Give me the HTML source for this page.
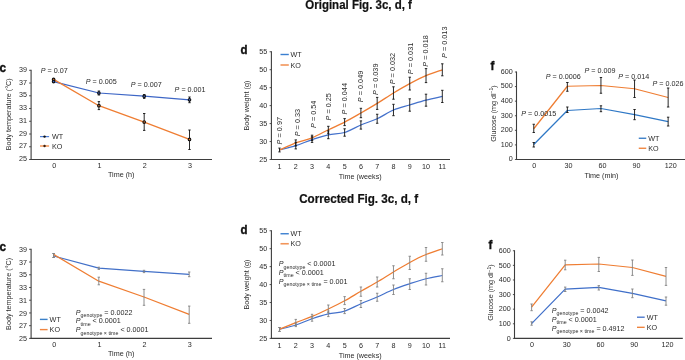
<!DOCTYPE html>
<html><head><meta charset="utf-8"><style>
html,body{margin:0;padding:0;background:#fff;}
body{width:685px;height:360px;overflow:hidden;}
svg{display:block;font-family:"Liberation Sans", sans-serif;will-change:transform;}
</style></head><body>
<svg width="685" height="360" viewBox="0 0 685 360">
<rect width="685" height="360" fill="#fff"/>
<text transform="translate(358.60,8.90) scale(1,1.1)" font-size="11.5" text-anchor="middle" font-weight="bold" font-style="normal" fill="#111" stroke="#111" stroke-width="0.2">Original Fig. 3c, d, f</text>
<text transform="translate(358.70,202.90) scale(1,1.1)" font-size="11.65" text-anchor="middle" font-weight="bold" font-style="normal" fill="#111" stroke="#111" stroke-width="0.2">Corrected Fig. 3c, d, f</text>
<text transform="translate(-0.60,72.30) scale(1,1.1)" font-size="11.8" text-anchor="start" font-weight="bold" font-style="normal" fill="#111" stroke="#111" stroke-width="0.35">c</text>
<line x1="31.10" y1="69.80" x2="31.10" y2="160.00" stroke="#3d3d3d" stroke-width="1.1" />
<line x1="29.10" y1="159.50" x2="31.10" y2="159.50" stroke="#3d3d3d" stroke-width="0.9" />
<text transform="translate(26.90,161.20) scale(1,1.1)" font-size="7.2" text-anchor="end" font-weight="normal" font-style="normal" fill="#2a2a2a" >25</text>
<line x1="29.10" y1="146.76" x2="31.10" y2="146.76" stroke="#3d3d3d" stroke-width="0.9" />
<text transform="translate(26.90,148.46) scale(1,1.1)" font-size="7.2" text-anchor="end" font-weight="normal" font-style="normal" fill="#2a2a2a" >27</text>
<line x1="29.10" y1="134.01" x2="31.10" y2="134.01" stroke="#3d3d3d" stroke-width="0.9" />
<text transform="translate(26.90,135.71) scale(1,1.1)" font-size="7.2" text-anchor="end" font-weight="normal" font-style="normal" fill="#2a2a2a" >29</text>
<line x1="29.10" y1="121.27" x2="31.10" y2="121.27" stroke="#3d3d3d" stroke-width="0.9" />
<text transform="translate(26.90,122.97) scale(1,1.1)" font-size="7.2" text-anchor="end" font-weight="normal" font-style="normal" fill="#2a2a2a" >31</text>
<line x1="29.10" y1="108.53" x2="31.10" y2="108.53" stroke="#3d3d3d" stroke-width="0.9" />
<text transform="translate(26.90,110.23) scale(1,1.1)" font-size="7.2" text-anchor="end" font-weight="normal" font-style="normal" fill="#2a2a2a" >33</text>
<line x1="29.10" y1="95.79" x2="31.10" y2="95.79" stroke="#3d3d3d" stroke-width="0.9" />
<text transform="translate(26.90,97.49) scale(1,1.1)" font-size="7.2" text-anchor="end" font-weight="normal" font-style="normal" fill="#2a2a2a" >35</text>
<line x1="29.10" y1="83.04" x2="31.10" y2="83.04" stroke="#3d3d3d" stroke-width="0.9" />
<text transform="translate(26.90,84.74) scale(1,1.1)" font-size="7.2" text-anchor="end" font-weight="normal" font-style="normal" fill="#2a2a2a" >37</text>
<line x1="29.10" y1="70.30" x2="31.10" y2="70.30" stroke="#3d3d3d" stroke-width="0.9" />
<text transform="translate(26.90,72.00) scale(1,1.1)" font-size="7.2" text-anchor="end" font-weight="normal" font-style="normal" fill="#2a2a2a" >39</text>
<line x1="30.60" y1="159.50" x2="212.00" y2="159.50" stroke="#3d3d3d" stroke-width="1.1" />
<text transform="translate(54.20,167.70) scale(1,1.1)" font-size="7.2" text-anchor="middle" font-weight="normal" font-style="normal" fill="#2a2a2a" >0</text>
<text transform="translate(99.50,167.70) scale(1,1.1)" font-size="7.2" text-anchor="middle" font-weight="normal" font-style="normal" fill="#2a2a2a" >1</text>
<text transform="translate(144.80,167.70) scale(1,1.1)" font-size="7.2" text-anchor="middle" font-weight="normal" font-style="normal" fill="#2a2a2a" >2</text>
<text transform="translate(190.10,167.70) scale(1,1.1)" font-size="7.2" text-anchor="middle" font-weight="normal" font-style="normal" fill="#2a2a2a" >3</text>
<text transform="translate(121.20,176.80) scale(1,1.1)" font-size="7.2" text-anchor="middle" font-weight="normal" font-style="normal" fill="#2a2a2a" >Time (h)</text>
<text transform="translate(10.80,114.30) rotate(-90)" x="0" y="0" font-size="7.2" text-anchor="middle" fill="#2a2a2a">Body temperature (°C)</text>
<polyline points="53.60,81.60 98.90,93.00 144.20,96.20 189.50,99.80" fill="none" stroke="#3d66c6" stroke-width="1.25" stroke-linejoin="round" stroke-linecap="butt"/>
<polyline points="53.60,79.40 98.90,105.70 144.20,122.10 189.50,139.40" fill="none" stroke="#ef7d32" stroke-width="1.25" stroke-linejoin="round" stroke-linecap="butt"/>
<line x1="98.90" y1="91.00" x2="98.90" y2="95.00" stroke="#111" stroke-width="0.9" />
<line x1="97.70" y1="91.00" x2="100.10" y2="91.00" stroke="#111" stroke-width="0.9" />
<line x1="97.70" y1="95.00" x2="100.10" y2="95.00" stroke="#111" stroke-width="0.9" />
<line x1="144.20" y1="94.60" x2="144.20" y2="98.40" stroke="#111" stroke-width="0.9" />
<line x1="143.00" y1="94.60" x2="145.40" y2="94.60" stroke="#111" stroke-width="0.9" />
<line x1="143.00" y1="98.40" x2="145.40" y2="98.40" stroke="#111" stroke-width="0.9" />
<line x1="189.50" y1="97.00" x2="189.50" y2="102.70" stroke="#111" stroke-width="0.9" />
<line x1="188.30" y1="97.00" x2="190.70" y2="97.00" stroke="#111" stroke-width="0.9" />
<line x1="188.30" y1="102.70" x2="190.70" y2="102.70" stroke="#111" stroke-width="0.9" />
<line x1="98.90" y1="101.60" x2="98.90" y2="109.60" stroke="#111" stroke-width="0.9" />
<line x1="97.70" y1="101.60" x2="100.10" y2="101.60" stroke="#111" stroke-width="0.9" />
<line x1="97.70" y1="109.60" x2="100.10" y2="109.60" stroke="#111" stroke-width="0.9" />
<line x1="144.20" y1="113.50" x2="144.20" y2="130.40" stroke="#111" stroke-width="0.9" />
<line x1="143.00" y1="113.50" x2="145.40" y2="113.50" stroke="#111" stroke-width="0.9" />
<line x1="143.00" y1="130.40" x2="145.40" y2="130.40" stroke="#111" stroke-width="0.9" />
<line x1="189.50" y1="130.00" x2="189.50" y2="149.50" stroke="#111" stroke-width="0.9" />
<line x1="188.30" y1="130.00" x2="190.70" y2="130.00" stroke="#111" stroke-width="0.9" />
<line x1="188.30" y1="149.50" x2="190.70" y2="149.50" stroke="#111" stroke-width="0.9" />
<circle cx="53.60" cy="79.40" r="1.3" fill="#ef7d32" stroke="#111" stroke-width="1.1"/>
<circle cx="98.90" cy="105.70" r="1.3" fill="#ef7d32" stroke="#111" stroke-width="1.1"/>
<circle cx="144.20" cy="122.10" r="1.3" fill="#ef7d32" stroke="#111" stroke-width="1.1"/>
<circle cx="189.50" cy="139.40" r="1.3" fill="#ef7d32" stroke="#111" stroke-width="1.1"/>
<circle cx="53.60" cy="81.60" r="1.3" fill="#3d66c6" stroke="#111" stroke-width="1.1"/>
<circle cx="98.90" cy="93.00" r="1.3" fill="#3d66c6" stroke="#111" stroke-width="1.1"/>
<circle cx="144.20" cy="96.20" r="1.3" fill="#3d66c6" stroke="#111" stroke-width="1.1"/>
<circle cx="189.50" cy="99.80" r="1.3" fill="#3d66c6" stroke="#111" stroke-width="1.1"/>
<line x1="40.00" y1="136.60" x2="49.10" y2="136.60" stroke="#4f7fd6" stroke-width="1.2" />
<line x1="40.00" y1="146.00" x2="49.10" y2="146.00" stroke="#f6a773" stroke-width="1.8" />
<circle cx="44.55" cy="136.60" r="1.2" fill="#111"/>
<circle cx="44.55" cy="146.00" r="1.2" fill="#3a2010"/>
<text transform="translate(52.00,139.10) scale(1,1.1)" font-size="7.2" text-anchor="start" font-weight="normal" font-style="normal" fill="#2a2a2a" >WT</text>
<text transform="translate(52.00,148.50) scale(1,1.1)" font-size="7.2" text-anchor="start" font-weight="normal" font-style="normal" fill="#2a2a2a" >KO</text>
<text transform="translate(40.80,73.30) scale(1,1.1)" font-size="7.2" fill="#2a2a2a"><tspan font-style="italic">P</tspan> = 0.07</text>
<text transform="translate(85.70,83.90) scale(1,1.1)" font-size="7.2" fill="#2a2a2a"><tspan font-style="italic">P</tspan> = 0.005</text>
<text transform="translate(130.70,87.00) scale(1,1.1)" font-size="7.2" fill="#2a2a2a"><tspan font-style="italic">P</tspan> = 0.007</text>
<text transform="translate(174.60,91.90) scale(1,1.1)" font-size="7.2" fill="#2a2a2a"><tspan font-style="italic">P</tspan> = 0.001</text>
<text transform="translate(-0.60,251.30) scale(1,1.1)" font-size="11.8" text-anchor="start" font-weight="bold" font-style="normal" fill="#111" stroke="#111" stroke-width="0.35">c</text>
<line x1="31.10" y1="248.80" x2="31.10" y2="338.90" stroke="#3d3d3d" stroke-width="1.1" />
<line x1="29.10" y1="338.40" x2="31.10" y2="338.40" stroke="#3d3d3d" stroke-width="0.9" />
<text transform="translate(26.90,341.00) scale(1,1.1)" font-size="7.2" text-anchor="end" font-weight="normal" font-style="normal" fill="#2a2a2a" >25</text>
<line x1="29.10" y1="325.67" x2="31.10" y2="325.67" stroke="#3d3d3d" stroke-width="0.9" />
<text transform="translate(26.90,328.27) scale(1,1.1)" font-size="7.2" text-anchor="end" font-weight="normal" font-style="normal" fill="#2a2a2a" >27</text>
<line x1="29.10" y1="312.94" x2="31.10" y2="312.94" stroke="#3d3d3d" stroke-width="0.9" />
<text transform="translate(26.90,315.54) scale(1,1.1)" font-size="7.2" text-anchor="end" font-weight="normal" font-style="normal" fill="#2a2a2a" >29</text>
<line x1="29.10" y1="300.21" x2="31.10" y2="300.21" stroke="#3d3d3d" stroke-width="0.9" />
<text transform="translate(26.90,302.81) scale(1,1.1)" font-size="7.2" text-anchor="end" font-weight="normal" font-style="normal" fill="#2a2a2a" >31</text>
<line x1="29.10" y1="287.49" x2="31.10" y2="287.49" stroke="#3d3d3d" stroke-width="0.9" />
<text transform="translate(26.90,290.09) scale(1,1.1)" font-size="7.2" text-anchor="end" font-weight="normal" font-style="normal" fill="#2a2a2a" >33</text>
<line x1="29.10" y1="274.76" x2="31.10" y2="274.76" stroke="#3d3d3d" stroke-width="0.9" />
<text transform="translate(26.90,277.36) scale(1,1.1)" font-size="7.2" text-anchor="end" font-weight="normal" font-style="normal" fill="#2a2a2a" >35</text>
<line x1="29.10" y1="262.03" x2="31.10" y2="262.03" stroke="#3d3d3d" stroke-width="0.9" />
<text transform="translate(26.90,264.63) scale(1,1.1)" font-size="7.2" text-anchor="end" font-weight="normal" font-style="normal" fill="#2a2a2a" >37</text>
<line x1="29.10" y1="249.30" x2="31.10" y2="249.30" stroke="#3d3d3d" stroke-width="0.9" />
<text transform="translate(26.90,251.90) scale(1,1.1)" font-size="7.2" text-anchor="end" font-weight="normal" font-style="normal" fill="#2a2a2a" >39</text>
<line x1="30.60" y1="338.40" x2="212.00" y2="338.40" stroke="#3d3d3d" stroke-width="1.1" />
<text transform="translate(54.20,346.60) scale(1,1.1)" font-size="7.2" text-anchor="middle" font-weight="normal" font-style="normal" fill="#2a2a2a" >0</text>
<text transform="translate(99.40,346.60) scale(1,1.1)" font-size="7.2" text-anchor="middle" font-weight="normal" font-style="normal" fill="#2a2a2a" >1</text>
<text transform="translate(144.60,346.60) scale(1,1.1)" font-size="7.2" text-anchor="middle" font-weight="normal" font-style="normal" fill="#2a2a2a" >2</text>
<text transform="translate(189.80,346.60) scale(1,1.1)" font-size="7.2" text-anchor="middle" font-weight="normal" font-style="normal" fill="#2a2a2a" >3</text>
<text transform="translate(121.20,355.80) scale(1,1.1)" font-size="7.2" text-anchor="middle" font-weight="normal" font-style="normal" fill="#2a2a2a" >Time (h)</text>
<text transform="translate(10.80,293.90) rotate(-90)" x="0" y="0" font-size="7.2" text-anchor="middle" fill="#2a2a2a">Body temperature (°C)</text>
<polyline points="53.60,256.00 98.80,268.10 144.00,271.40 189.20,274.30" fill="none" stroke="#4270c8" stroke-width="1.25" stroke-linejoin="round" stroke-linecap="butt"/>
<polyline points="53.60,254.40 98.80,281.20 144.00,297.00 189.20,314.40" fill="none" stroke="#ef7d32" stroke-width="1.25" stroke-linejoin="round" stroke-linecap="butt"/>
<line x1="53.60" y1="253.50" x2="53.60" y2="257.50" stroke="#828282" stroke-width="0.9" />
<line x1="52.40" y1="253.50" x2="54.80" y2="253.50" stroke="#828282" stroke-width="0.9" />
<line x1="52.40" y1="257.50" x2="54.80" y2="257.50" stroke="#828282" stroke-width="0.9" />
<line x1="98.80" y1="267.20" x2="98.80" y2="269.40" stroke="#828282" stroke-width="0.9" />
<line x1="97.60" y1="267.20" x2="100.00" y2="267.20" stroke="#828282" stroke-width="0.9" />
<line x1="97.60" y1="269.40" x2="100.00" y2="269.40" stroke="#828282" stroke-width="0.9" />
<line x1="144.00" y1="270.30" x2="144.00" y2="272.60" stroke="#828282" stroke-width="0.9" />
<line x1="142.80" y1="270.30" x2="145.20" y2="270.30" stroke="#828282" stroke-width="0.9" />
<line x1="142.80" y1="272.60" x2="145.20" y2="272.60" stroke="#828282" stroke-width="0.9" />
<line x1="189.20" y1="272.00" x2="189.20" y2="276.70" stroke="#828282" stroke-width="0.9" />
<line x1="188.00" y1="272.00" x2="190.40" y2="272.00" stroke="#828282" stroke-width="0.9" />
<line x1="188.00" y1="276.70" x2="190.40" y2="276.70" stroke="#828282" stroke-width="0.9" />
<line x1="53.60" y1="253.50" x2="53.60" y2="257.50" stroke="#828282" stroke-width="0.9" />
<line x1="52.40" y1="253.50" x2="54.80" y2="253.50" stroke="#828282" stroke-width="0.9" />
<line x1="52.40" y1="257.50" x2="54.80" y2="257.50" stroke="#828282" stroke-width="0.9" />
<line x1="98.80" y1="277.20" x2="98.80" y2="284.80" stroke="#828282" stroke-width="0.9" />
<line x1="97.60" y1="277.20" x2="100.00" y2="277.20" stroke="#828282" stroke-width="0.9" />
<line x1="97.60" y1="284.80" x2="100.00" y2="284.80" stroke="#828282" stroke-width="0.9" />
<line x1="144.00" y1="289.40" x2="144.00" y2="305.30" stroke="#828282" stroke-width="0.9" />
<line x1="142.80" y1="289.40" x2="145.20" y2="289.40" stroke="#828282" stroke-width="0.9" />
<line x1="142.80" y1="305.30" x2="145.20" y2="305.30" stroke="#828282" stroke-width="0.9" />
<line x1="189.20" y1="306.10" x2="189.20" y2="323.30" stroke="#828282" stroke-width="0.9" />
<line x1="188.00" y1="306.10" x2="190.40" y2="306.10" stroke="#828282" stroke-width="0.9" />
<line x1="188.00" y1="323.30" x2="190.40" y2="323.30" stroke="#828282" stroke-width="0.9" />
<line x1="39.90" y1="319.40" x2="47.60" y2="319.40" stroke="#3a80c8" stroke-width="1.4" />
<line x1="39.90" y1="329.60" x2="47.60" y2="329.60" stroke="#ef8540" stroke-width="1.4" />
<text transform="translate(49.60,321.90) scale(1,1.1)" font-size="7.2" text-anchor="start" font-weight="normal" font-style="normal" fill="#2a2a2a" >WT</text>
<text transform="translate(49.60,332.10) scale(1,1.1)" font-size="7.2" text-anchor="start" font-weight="normal" font-style="normal" fill="#2a2a2a" >KO</text>
<text transform="translate(75.80,314.60) scale(1,1.1)" font-size="7.2" fill="#2a2a2a"><tspan font-style="italic">P</tspan><tspan font-size="5.3" dy="2.6">genotype</tspan><tspan dy="-2.6"> = 0.0022</tspan></text>
<text transform="translate(75.80,322.80) scale(1,1.1)" font-size="7.2" fill="#2a2a2a"><tspan font-style="italic">P</tspan><tspan font-size="5.3" dy="2.6">time</tspan><tspan dy="-2.6"> &lt; 0.0001</tspan></text>
<text transform="translate(75.80,331.80) scale(1,1.1)" font-size="7.2" fill="#2a2a2a"><tspan font-style="italic">P</tspan><tspan font-size="5.3" dy="2.6">genotype × time</tspan><tspan dy="-2.6"> &lt; 0.0001</tspan></text>
<text transform="translate(240.60,54.25) scale(1,1.1)" font-size="11.5" text-anchor="start" font-weight="bold" font-style="normal" fill="#111" stroke="#111" stroke-width="0.35">d</text>
<line x1="271.40" y1="51.25" x2="271.40" y2="160.00" stroke="#3d3d3d" stroke-width="1.1" />
<line x1="269.60" y1="159.50" x2="271.40" y2="159.50" stroke="#3d3d3d" stroke-width="0.9" />
<text transform="translate(267.20,162.00) scale(1,1.1)" font-size="7.2" text-anchor="end" font-weight="normal" font-style="normal" fill="#2a2a2a" >25</text>
<line x1="269.60" y1="141.54" x2="271.40" y2="141.54" stroke="#3d3d3d" stroke-width="0.9" />
<text transform="translate(267.20,144.04) scale(1,1.1)" font-size="7.2" text-anchor="end" font-weight="normal" font-style="normal" fill="#2a2a2a" >30</text>
<line x1="269.60" y1="123.58" x2="271.40" y2="123.58" stroke="#3d3d3d" stroke-width="0.9" />
<text transform="translate(267.20,126.08) scale(1,1.1)" font-size="7.2" text-anchor="end" font-weight="normal" font-style="normal" fill="#2a2a2a" >35</text>
<line x1="269.60" y1="105.62" x2="271.40" y2="105.62" stroke="#3d3d3d" stroke-width="0.9" />
<text transform="translate(267.20,108.12) scale(1,1.1)" font-size="7.2" text-anchor="end" font-weight="normal" font-style="normal" fill="#2a2a2a" >40</text>
<line x1="269.60" y1="87.67" x2="271.40" y2="87.67" stroke="#3d3d3d" stroke-width="0.9" />
<text transform="translate(267.20,90.17) scale(1,1.1)" font-size="7.2" text-anchor="end" font-weight="normal" font-style="normal" fill="#2a2a2a" >45</text>
<line x1="269.60" y1="69.71" x2="271.40" y2="69.71" stroke="#3d3d3d" stroke-width="0.9" />
<text transform="translate(267.20,72.21) scale(1,1.1)" font-size="7.2" text-anchor="end" font-weight="normal" font-style="normal" fill="#2a2a2a" >50</text>
<line x1="269.60" y1="51.75" x2="271.40" y2="51.75" stroke="#3d3d3d" stroke-width="0.9" />
<text transform="translate(267.20,54.25) scale(1,1.1)" font-size="7.2" text-anchor="end" font-weight="normal" font-style="normal" fill="#2a2a2a" >55</text>
<line x1="270.90" y1="159.50" x2="450.00" y2="159.50" stroke="#3d3d3d" stroke-width="1.1" />
<text transform="translate(279.50,168.70) scale(1,1.1)" font-size="7.2" text-anchor="middle" font-weight="normal" font-style="normal" fill="#2a2a2a" >1</text>
<text transform="translate(295.78,168.70) scale(1,1.1)" font-size="7.2" text-anchor="middle" font-weight="normal" font-style="normal" fill="#2a2a2a" >2</text>
<text transform="translate(312.06,168.70) scale(1,1.1)" font-size="7.2" text-anchor="middle" font-weight="normal" font-style="normal" fill="#2a2a2a" >3</text>
<text transform="translate(328.34,168.70) scale(1,1.1)" font-size="7.2" text-anchor="middle" font-weight="normal" font-style="normal" fill="#2a2a2a" >4</text>
<text transform="translate(344.62,168.70) scale(1,1.1)" font-size="7.2" text-anchor="middle" font-weight="normal" font-style="normal" fill="#2a2a2a" >5</text>
<text transform="translate(360.90,168.70) scale(1,1.1)" font-size="7.2" text-anchor="middle" font-weight="normal" font-style="normal" fill="#2a2a2a" >6</text>
<text transform="translate(377.18,168.70) scale(1,1.1)" font-size="7.2" text-anchor="middle" font-weight="normal" font-style="normal" fill="#2a2a2a" >7</text>
<text transform="translate(393.46,168.70) scale(1,1.1)" font-size="7.2" text-anchor="middle" font-weight="normal" font-style="normal" fill="#2a2a2a" >8</text>
<text transform="translate(409.74,168.70) scale(1,1.1)" font-size="7.2" text-anchor="middle" font-weight="normal" font-style="normal" fill="#2a2a2a" >9</text>
<text transform="translate(426.02,168.70) scale(1,1.1)" font-size="7.2" text-anchor="middle" font-weight="normal" font-style="normal" fill="#2a2a2a" >10</text>
<text transform="translate(442.30,168.70) scale(1,1.1)" font-size="7.2" text-anchor="middle" font-weight="normal" font-style="normal" fill="#2a2a2a" >11</text>
<text transform="translate(360.20,179.30) scale(1,1.1)" font-size="7.2" text-anchor="middle" font-weight="normal" font-style="normal" fill="#2a2a2a" >Time (weeks)</text>
<text transform="translate(248.70,105.60) rotate(-90)" x="0" y="0" font-size="7.2" text-anchor="middle" fill="#2a2a2a">Body weight (g)</text>
<path d="M279.50,150.00 C282.21,149.27 290.35,147.33 295.78,145.60 C301.21,143.87 306.63,141.40 312.06,139.60 C317.49,137.80 322.91,135.98 328.34,134.80 C333.77,133.62 339.19,134.13 344.62,132.50 C350.05,130.87 355.47,127.29 360.90,125.00 C366.33,122.71 371.75,121.25 377.18,118.75 C382.61,116.25 388.03,112.29 393.46,110.00 C398.89,107.71 404.31,106.63 409.74,105.00 C415.17,103.37 420.59,101.63 426.02,100.20 C431.45,98.77 439.59,97.03 442.30,96.40" fill="none" stroke="#4471cb" stroke-width="1.25"/>
<path d="M279.50,150.00 C282.21,148.82 290.35,144.93 295.78,142.90 C301.21,140.87 306.63,139.98 312.06,137.80 C317.49,135.62 322.91,132.42 328.34,129.80 C333.77,127.18 339.19,124.90 344.62,122.10 C350.05,119.30 355.47,116.12 360.90,113.00 C366.33,109.88 371.75,106.73 377.18,103.40 C382.61,100.07 388.03,96.30 393.46,93.00 C398.89,89.70 404.31,86.50 409.74,83.60 C415.17,80.70 420.59,77.90 426.02,75.60 C431.45,73.30 439.59,70.77 442.30,69.80" fill="none" stroke="#ef7d32" stroke-width="1.25"/>
<line x1="279.50" y1="148.10" x2="279.50" y2="151.90" stroke="#111" stroke-width="0.9" />
<line x1="278.30" y1="148.10" x2="280.70" y2="148.10" stroke="#111" stroke-width="0.9" />
<line x1="278.30" y1="151.90" x2="280.70" y2="151.90" stroke="#111" stroke-width="0.9" />
<line x1="295.78" y1="142.30" x2="295.78" y2="148.90" stroke="#111" stroke-width="0.9" />
<line x1="294.58" y1="142.30" x2="296.98" y2="142.30" stroke="#111" stroke-width="0.9" />
<line x1="294.58" y1="148.90" x2="296.98" y2="148.90" stroke="#111" stroke-width="0.9" />
<line x1="312.06" y1="136.80" x2="312.06" y2="142.40" stroke="#111" stroke-width="0.9" />
<line x1="310.86" y1="136.80" x2="313.26" y2="136.80" stroke="#111" stroke-width="0.9" />
<line x1="310.86" y1="142.40" x2="313.26" y2="142.40" stroke="#111" stroke-width="0.9" />
<line x1="328.34" y1="130.90" x2="328.34" y2="138.70" stroke="#111" stroke-width="0.9" />
<line x1="327.14" y1="130.90" x2="329.54" y2="130.90" stroke="#111" stroke-width="0.9" />
<line x1="327.14" y1="138.70" x2="329.54" y2="138.70" stroke="#111" stroke-width="0.9" />
<line x1="344.62" y1="128.80" x2="344.62" y2="136.20" stroke="#111" stroke-width="0.9" />
<line x1="343.42" y1="128.80" x2="345.82" y2="128.80" stroke="#111" stroke-width="0.9" />
<line x1="343.42" y1="136.20" x2="345.82" y2="136.20" stroke="#111" stroke-width="0.9" />
<line x1="360.90" y1="120.90" x2="360.90" y2="129.10" stroke="#111" stroke-width="0.9" />
<line x1="359.70" y1="120.90" x2="362.10" y2="120.90" stroke="#111" stroke-width="0.9" />
<line x1="359.70" y1="129.10" x2="362.10" y2="129.10" stroke="#111" stroke-width="0.9" />
<line x1="377.18" y1="114.25" x2="377.18" y2="123.25" stroke="#111" stroke-width="0.9" />
<line x1="375.98" y1="114.25" x2="378.38" y2="114.25" stroke="#111" stroke-width="0.9" />
<line x1="375.98" y1="123.25" x2="378.38" y2="123.25" stroke="#111" stroke-width="0.9" />
<line x1="393.46" y1="104.30" x2="393.46" y2="115.70" stroke="#111" stroke-width="0.9" />
<line x1="392.26" y1="104.30" x2="394.66" y2="104.30" stroke="#111" stroke-width="0.9" />
<line x1="392.26" y1="115.70" x2="394.66" y2="115.70" stroke="#111" stroke-width="0.9" />
<line x1="409.74" y1="98.80" x2="409.74" y2="111.20" stroke="#111" stroke-width="0.9" />
<line x1="408.54" y1="98.80" x2="410.94" y2="98.80" stroke="#111" stroke-width="0.9" />
<line x1="408.54" y1="111.20" x2="410.94" y2="111.20" stroke="#111" stroke-width="0.9" />
<line x1="426.02" y1="94.20" x2="426.02" y2="106.20" stroke="#111" stroke-width="0.9" />
<line x1="424.82" y1="94.20" x2="427.22" y2="94.20" stroke="#111" stroke-width="0.9" />
<line x1="424.82" y1="106.20" x2="427.22" y2="106.20" stroke="#111" stroke-width="0.9" />
<line x1="442.30" y1="90.30" x2="442.30" y2="102.50" stroke="#111" stroke-width="0.9" />
<line x1="441.10" y1="90.30" x2="443.50" y2="90.30" stroke="#111" stroke-width="0.9" />
<line x1="441.10" y1="102.50" x2="443.50" y2="102.50" stroke="#111" stroke-width="0.9" />
<line x1="295.78" y1="139.90" x2="295.78" y2="145.90" stroke="#111" stroke-width="0.9" />
<line x1="294.58" y1="139.90" x2="296.98" y2="139.90" stroke="#111" stroke-width="0.9" />
<line x1="294.58" y1="145.90" x2="296.98" y2="145.90" stroke="#111" stroke-width="0.9" />
<line x1="312.06" y1="135.20" x2="312.06" y2="140.40" stroke="#111" stroke-width="0.9" />
<line x1="310.86" y1="135.20" x2="313.26" y2="135.20" stroke="#111" stroke-width="0.9" />
<line x1="310.86" y1="140.40" x2="313.26" y2="140.40" stroke="#111" stroke-width="0.9" />
<line x1="328.34" y1="126.30" x2="328.34" y2="133.30" stroke="#111" stroke-width="0.9" />
<line x1="327.14" y1="126.30" x2="329.54" y2="126.30" stroke="#111" stroke-width="0.9" />
<line x1="327.14" y1="133.30" x2="329.54" y2="133.30" stroke="#111" stroke-width="0.9" />
<line x1="344.62" y1="118.60" x2="344.62" y2="125.60" stroke="#111" stroke-width="0.9" />
<line x1="343.42" y1="118.60" x2="345.82" y2="118.60" stroke="#111" stroke-width="0.9" />
<line x1="343.42" y1="125.60" x2="345.82" y2="125.60" stroke="#111" stroke-width="0.9" />
<line x1="360.90" y1="108.30" x2="360.90" y2="117.70" stroke="#111" stroke-width="0.9" />
<line x1="359.70" y1="108.30" x2="362.10" y2="108.30" stroke="#111" stroke-width="0.9" />
<line x1="359.70" y1="117.70" x2="362.10" y2="117.70" stroke="#111" stroke-width="0.9" />
<line x1="377.18" y1="97.40" x2="377.18" y2="109.40" stroke="#111" stroke-width="0.9" />
<line x1="375.98" y1="97.40" x2="378.38" y2="97.40" stroke="#111" stroke-width="0.9" />
<line x1="375.98" y1="109.40" x2="378.38" y2="109.40" stroke="#111" stroke-width="0.9" />
<line x1="393.46" y1="86.80" x2="393.46" y2="99.20" stroke="#111" stroke-width="0.9" />
<line x1="392.26" y1="86.80" x2="394.66" y2="86.80" stroke="#111" stroke-width="0.9" />
<line x1="392.26" y1="99.20" x2="394.66" y2="99.20" stroke="#111" stroke-width="0.9" />
<line x1="409.74" y1="77.20" x2="409.74" y2="90.00" stroke="#111" stroke-width="0.9" />
<line x1="408.54" y1="77.20" x2="410.94" y2="77.20" stroke="#111" stroke-width="0.9" />
<line x1="408.54" y1="90.00" x2="410.94" y2="90.00" stroke="#111" stroke-width="0.9" />
<line x1="426.02" y1="68.60" x2="426.02" y2="82.60" stroke="#111" stroke-width="0.9" />
<line x1="424.82" y1="68.60" x2="427.22" y2="68.60" stroke="#111" stroke-width="0.9" />
<line x1="424.82" y1="82.60" x2="427.22" y2="82.60" stroke="#111" stroke-width="0.9" />
<line x1="442.30" y1="63.80" x2="442.30" y2="75.80" stroke="#111" stroke-width="0.9" />
<line x1="441.10" y1="63.80" x2="443.50" y2="63.80" stroke="#111" stroke-width="0.9" />
<line x1="441.10" y1="75.80" x2="443.50" y2="75.80" stroke="#111" stroke-width="0.9" />
<line x1="280.50" y1="54.50" x2="288.80" y2="54.50" stroke="#3a7fd0" stroke-width="1.4" />
<line x1="280.50" y1="65.00" x2="288.80" y2="65.00" stroke="#f2955a" stroke-width="1.6" />
<text transform="translate(290.50,57.00) scale(1,1.1)" font-size="7.2" text-anchor="start" font-weight="normal" font-style="normal" fill="#2a2a2a" >WT</text>
<text transform="translate(290.50,67.50) scale(1,1.1)" font-size="7.2" text-anchor="start" font-weight="normal" font-style="normal" fill="#2a2a2a" >KO</text>
<text transform="translate(281.90,144.40) rotate(-90)" font-size="7.3" fill="#2a2a2a"><tspan font-style="italic">P</tspan> = 0.97</text>
<text transform="translate(299.50,136.30) rotate(-90)" font-size="7.3" fill="#2a2a2a"><tspan font-style="italic">P</tspan> = 0.33</text>
<text transform="translate(315.50,128.00) rotate(-90)" font-size="7.3" fill="#2a2a2a"><tspan font-style="italic">P</tspan> = 0.54</text>
<text transform="translate(330.80,120.50) rotate(-90)" font-size="7.3" fill="#2a2a2a"><tspan font-style="italic">P</tspan> = 0.25</text>
<text transform="translate(346.70,114.50) rotate(-90)" font-size="7.3" fill="#2a2a2a"><tspan font-style="italic">P</tspan> = 0.044</text>
<text transform="translate(362.50,102.20) rotate(-90)" font-size="7.3" fill="#2a2a2a"><tspan font-style="italic">P</tspan> = 0.049</text>
<text transform="translate(378.30,95.00) rotate(-90)" font-size="7.3" fill="#2a2a2a"><tspan font-style="italic">P</tspan> = 0.039</text>
<text transform="translate(395.40,84.30) rotate(-90)" font-size="7.3" fill="#2a2a2a"><tspan font-style="italic">P</tspan> = 0.032</text>
<text transform="translate(413.30,74.20) rotate(-90)" font-size="7.3" fill="#2a2a2a"><tspan font-style="italic">P</tspan> = 0.031</text>
<text transform="translate(428.30,66.70) rotate(-90)" font-size="7.3" fill="#2a2a2a"><tspan font-style="italic">P</tspan> = 0.018</text>
<text transform="translate(447.20,58.00) rotate(-90)" font-size="7.3" fill="#2a2a2a"><tspan font-style="italic">P</tspan> = 0.013</text>
<text transform="translate(240.60,234.15) scale(1,1.1)" font-size="11.5" text-anchor="start" font-weight="bold" font-style="normal" fill="#111" stroke="#111" stroke-width="0.35">d</text>
<line x1="271.40" y1="230.25" x2="271.40" y2="338.90" stroke="#3d3d3d" stroke-width="1.1" />
<line x1="269.60" y1="338.40" x2="271.40" y2="338.40" stroke="#3d3d3d" stroke-width="0.9" />
<text transform="translate(267.20,340.90) scale(1,1.1)" font-size="7.2" text-anchor="end" font-weight="normal" font-style="normal" fill="#2a2a2a" >25</text>
<line x1="269.60" y1="320.46" x2="271.40" y2="320.46" stroke="#3d3d3d" stroke-width="0.9" />
<text transform="translate(267.20,322.96) scale(1,1.1)" font-size="7.2" text-anchor="end" font-weight="normal" font-style="normal" fill="#2a2a2a" >30</text>
<line x1="269.60" y1="302.52" x2="271.40" y2="302.52" stroke="#3d3d3d" stroke-width="0.9" />
<text transform="translate(267.20,305.02) scale(1,1.1)" font-size="7.2" text-anchor="end" font-weight="normal" font-style="normal" fill="#2a2a2a" >35</text>
<line x1="269.60" y1="284.57" x2="271.40" y2="284.57" stroke="#3d3d3d" stroke-width="0.9" />
<text transform="translate(267.20,287.07) scale(1,1.1)" font-size="7.2" text-anchor="end" font-weight="normal" font-style="normal" fill="#2a2a2a" >40</text>
<line x1="269.60" y1="266.63" x2="271.40" y2="266.63" stroke="#3d3d3d" stroke-width="0.9" />
<text transform="translate(267.20,269.13) scale(1,1.1)" font-size="7.2" text-anchor="end" font-weight="normal" font-style="normal" fill="#2a2a2a" >45</text>
<line x1="269.60" y1="248.69" x2="271.40" y2="248.69" stroke="#3d3d3d" stroke-width="0.9" />
<text transform="translate(267.20,251.19) scale(1,1.1)" font-size="7.2" text-anchor="end" font-weight="normal" font-style="normal" fill="#2a2a2a" >50</text>
<line x1="269.60" y1="230.75" x2="271.40" y2="230.75" stroke="#3d3d3d" stroke-width="0.9" />
<text transform="translate(267.20,233.25) scale(1,1.1)" font-size="7.2" text-anchor="end" font-weight="normal" font-style="normal" fill="#2a2a2a" >55</text>
<line x1="270.90" y1="338.40" x2="450.00" y2="338.40" stroke="#3d3d3d" stroke-width="1.1" />
<text transform="translate(279.50,347.60) scale(1,1.1)" font-size="7.2" text-anchor="middle" font-weight="normal" font-style="normal" fill="#2a2a2a" >1</text>
<text transform="translate(295.78,347.60) scale(1,1.1)" font-size="7.2" text-anchor="middle" font-weight="normal" font-style="normal" fill="#2a2a2a" >2</text>
<text transform="translate(312.06,347.60) scale(1,1.1)" font-size="7.2" text-anchor="middle" font-weight="normal" font-style="normal" fill="#2a2a2a" >3</text>
<text transform="translate(328.34,347.60) scale(1,1.1)" font-size="7.2" text-anchor="middle" font-weight="normal" font-style="normal" fill="#2a2a2a" >4</text>
<text transform="translate(344.62,347.60) scale(1,1.1)" font-size="7.2" text-anchor="middle" font-weight="normal" font-style="normal" fill="#2a2a2a" >5</text>
<text transform="translate(360.90,347.60) scale(1,1.1)" font-size="7.2" text-anchor="middle" font-weight="normal" font-style="normal" fill="#2a2a2a" >6</text>
<text transform="translate(377.18,347.60) scale(1,1.1)" font-size="7.2" text-anchor="middle" font-weight="normal" font-style="normal" fill="#2a2a2a" >7</text>
<text transform="translate(393.46,347.60) scale(1,1.1)" font-size="7.2" text-anchor="middle" font-weight="normal" font-style="normal" fill="#2a2a2a" >8</text>
<text transform="translate(409.74,347.60) scale(1,1.1)" font-size="7.2" text-anchor="middle" font-weight="normal" font-style="normal" fill="#2a2a2a" >9</text>
<text transform="translate(426.02,347.60) scale(1,1.1)" font-size="7.2" text-anchor="middle" font-weight="normal" font-style="normal" fill="#2a2a2a" >10</text>
<text transform="translate(442.30,347.60) scale(1,1.1)" font-size="7.2" text-anchor="middle" font-weight="normal" font-style="normal" fill="#2a2a2a" >11</text>
<text transform="translate(360.20,358.30) scale(1,1.1)" font-size="7.2" text-anchor="middle" font-weight="normal" font-style="normal" fill="#2a2a2a" >Time (weeks)</text>
<text transform="translate(248.70,284.50) rotate(-90)" x="0" y="0" font-size="7.2" text-anchor="middle" fill="#2a2a2a">Body weight (g)</text>
<path d="M279.50,329.30 C282.21,328.58 290.35,326.76 295.78,325.00 C301.21,323.24 306.63,320.60 312.06,318.75 C317.49,316.90 322.91,315.17 328.34,313.90 C333.77,312.62 339.19,312.79 344.62,311.10 C350.05,309.41 355.47,306.10 360.90,303.75 C366.33,301.40 371.75,299.38 377.18,297.00 C382.61,294.62 388.03,291.71 393.46,289.50 C398.89,287.29 404.31,285.54 409.74,283.75 C415.17,281.96 420.59,280.12 426.02,278.75 C431.45,277.38 439.59,276.04 442.30,275.50" fill="none" stroke="#4471cb" stroke-width="1.25"/>
<path d="M279.50,329.30 C282.21,328.18 290.35,324.75 295.78,322.60 C301.21,320.45 306.63,318.67 312.06,316.40 C317.49,314.13 322.91,311.60 328.34,309.00 C333.77,306.40 339.19,303.76 344.62,300.80 C350.05,297.84 355.47,294.38 360.90,291.25 C366.33,288.12 371.75,285.21 377.18,282.00 C382.61,278.79 388.03,275.25 393.46,272.00 C398.89,268.75 404.31,265.42 409.74,262.50 C415.17,259.58 420.59,256.79 426.02,254.50 C431.45,252.21 439.59,249.71 442.30,248.75" fill="none" stroke="#ef7d32" stroke-width="1.25"/>
<line x1="279.50" y1="327.50" x2="279.50" y2="331.40" stroke="#828282" stroke-width="0.9" />
<line x1="278.30" y1="327.50" x2="280.70" y2="327.50" stroke="#828282" stroke-width="0.9" />
<line x1="278.30" y1="331.40" x2="280.70" y2="331.40" stroke="#828282" stroke-width="0.9" />
<line x1="295.78" y1="323.00" x2="295.78" y2="326.60" stroke="#828282" stroke-width="0.9" />
<line x1="294.58" y1="323.00" x2="296.98" y2="323.00" stroke="#828282" stroke-width="0.9" />
<line x1="294.58" y1="326.60" x2="296.98" y2="326.60" stroke="#828282" stroke-width="0.9" />
<line x1="312.06" y1="316.40" x2="312.06" y2="321.20" stroke="#828282" stroke-width="0.9" />
<line x1="310.86" y1="316.40" x2="313.26" y2="316.40" stroke="#828282" stroke-width="0.9" />
<line x1="310.86" y1="321.20" x2="313.26" y2="321.20" stroke="#828282" stroke-width="0.9" />
<line x1="328.34" y1="311.00" x2="328.34" y2="316.60" stroke="#828282" stroke-width="0.9" />
<line x1="327.14" y1="311.00" x2="329.54" y2="311.00" stroke="#828282" stroke-width="0.9" />
<line x1="327.14" y1="316.60" x2="329.54" y2="316.60" stroke="#828282" stroke-width="0.9" />
<line x1="344.62" y1="308.50" x2="344.62" y2="313.60" stroke="#828282" stroke-width="0.9" />
<line x1="343.42" y1="308.50" x2="345.82" y2="308.50" stroke="#828282" stroke-width="0.9" />
<line x1="343.42" y1="313.60" x2="345.82" y2="313.60" stroke="#828282" stroke-width="0.9" />
<line x1="360.90" y1="300.50" x2="360.90" y2="307.50" stroke="#828282" stroke-width="0.9" />
<line x1="359.70" y1="300.50" x2="362.10" y2="300.50" stroke="#828282" stroke-width="0.9" />
<line x1="359.70" y1="307.50" x2="362.10" y2="307.50" stroke="#828282" stroke-width="0.9" />
<line x1="377.18" y1="293.25" x2="377.18" y2="301.25" stroke="#828282" stroke-width="0.9" />
<line x1="375.98" y1="293.25" x2="378.38" y2="293.25" stroke="#828282" stroke-width="0.9" />
<line x1="375.98" y1="301.25" x2="378.38" y2="301.25" stroke="#828282" stroke-width="0.9" />
<line x1="393.46" y1="285.00" x2="393.46" y2="294.50" stroke="#828282" stroke-width="0.9" />
<line x1="392.26" y1="285.00" x2="394.66" y2="285.00" stroke="#828282" stroke-width="0.9" />
<line x1="392.26" y1="294.50" x2="394.66" y2="294.50" stroke="#828282" stroke-width="0.9" />
<line x1="409.74" y1="278.75" x2="409.74" y2="289.50" stroke="#828282" stroke-width="0.9" />
<line x1="408.54" y1="278.75" x2="410.94" y2="278.75" stroke="#828282" stroke-width="0.9" />
<line x1="408.54" y1="289.50" x2="410.94" y2="289.50" stroke="#828282" stroke-width="0.9" />
<line x1="426.02" y1="273.25" x2="426.02" y2="285.00" stroke="#828282" stroke-width="0.9" />
<line x1="424.82" y1="273.25" x2="427.22" y2="273.25" stroke="#828282" stroke-width="0.9" />
<line x1="424.82" y1="285.00" x2="427.22" y2="285.00" stroke="#828282" stroke-width="0.9" />
<line x1="442.30" y1="268.75" x2="442.30" y2="281.75" stroke="#828282" stroke-width="0.9" />
<line x1="441.10" y1="268.75" x2="443.50" y2="268.75" stroke="#828282" stroke-width="0.9" />
<line x1="441.10" y1="281.75" x2="443.50" y2="281.75" stroke="#828282" stroke-width="0.9" />
<line x1="279.50" y1="327.50" x2="279.50" y2="331.40" stroke="#828282" stroke-width="0.9" />
<line x1="278.30" y1="327.50" x2="280.70" y2="327.50" stroke="#828282" stroke-width="0.9" />
<line x1="278.30" y1="331.40" x2="280.70" y2="331.40" stroke="#828282" stroke-width="0.9" />
<line x1="295.78" y1="319.40" x2="295.78" y2="325.40" stroke="#828282" stroke-width="0.9" />
<line x1="294.58" y1="319.40" x2="296.98" y2="319.40" stroke="#828282" stroke-width="0.9" />
<line x1="294.58" y1="325.40" x2="296.98" y2="325.40" stroke="#828282" stroke-width="0.9" />
<line x1="312.06" y1="314.30" x2="312.06" y2="318.60" stroke="#828282" stroke-width="0.9" />
<line x1="310.86" y1="314.30" x2="313.26" y2="314.30" stroke="#828282" stroke-width="0.9" />
<line x1="310.86" y1="318.60" x2="313.26" y2="318.60" stroke="#828282" stroke-width="0.9" />
<line x1="328.34" y1="305.00" x2="328.34" y2="312.60" stroke="#828282" stroke-width="0.9" />
<line x1="327.14" y1="305.00" x2="329.54" y2="305.00" stroke="#828282" stroke-width="0.9" />
<line x1="327.14" y1="312.60" x2="329.54" y2="312.60" stroke="#828282" stroke-width="0.9" />
<line x1="344.62" y1="296.60" x2="344.62" y2="304.60" stroke="#828282" stroke-width="0.9" />
<line x1="343.42" y1="296.60" x2="345.82" y2="296.60" stroke="#828282" stroke-width="0.9" />
<line x1="343.42" y1="304.60" x2="345.82" y2="304.60" stroke="#828282" stroke-width="0.9" />
<line x1="360.90" y1="287.00" x2="360.90" y2="296.25" stroke="#828282" stroke-width="0.9" />
<line x1="359.70" y1="287.00" x2="362.10" y2="287.00" stroke="#828282" stroke-width="0.9" />
<line x1="359.70" y1="296.25" x2="362.10" y2="296.25" stroke="#828282" stroke-width="0.9" />
<line x1="377.18" y1="277.00" x2="377.18" y2="287.00" stroke="#828282" stroke-width="0.9" />
<line x1="375.98" y1="277.00" x2="378.38" y2="277.00" stroke="#828282" stroke-width="0.9" />
<line x1="375.98" y1="287.00" x2="378.38" y2="287.00" stroke="#828282" stroke-width="0.9" />
<line x1="393.46" y1="265.75" x2="393.46" y2="278.75" stroke="#828282" stroke-width="0.9" />
<line x1="392.26" y1="265.75" x2="394.66" y2="265.75" stroke="#828282" stroke-width="0.9" />
<line x1="392.26" y1="278.75" x2="394.66" y2="278.75" stroke="#828282" stroke-width="0.9" />
<line x1="409.74" y1="256.25" x2="409.74" y2="269.50" stroke="#828282" stroke-width="0.9" />
<line x1="408.54" y1="256.25" x2="410.94" y2="256.25" stroke="#828282" stroke-width="0.9" />
<line x1="408.54" y1="269.50" x2="410.94" y2="269.50" stroke="#828282" stroke-width="0.9" />
<line x1="426.02" y1="247.50" x2="426.02" y2="261.25" stroke="#828282" stroke-width="0.9" />
<line x1="424.82" y1="247.50" x2="427.22" y2="247.50" stroke="#828282" stroke-width="0.9" />
<line x1="424.82" y1="261.25" x2="427.22" y2="261.25" stroke="#828282" stroke-width="0.9" />
<line x1="442.30" y1="242.50" x2="442.30" y2="255.00" stroke="#828282" stroke-width="0.9" />
<line x1="441.10" y1="242.50" x2="443.50" y2="242.50" stroke="#828282" stroke-width="0.9" />
<line x1="441.10" y1="255.00" x2="443.50" y2="255.00" stroke="#828282" stroke-width="0.9" />
<line x1="280.50" y1="233.75" x2="288.80" y2="233.75" stroke="#3a7fd0" stroke-width="1.4" />
<line x1="280.50" y1="243.75" x2="288.80" y2="243.75" stroke="#f2955a" stroke-width="1.6" />
<text transform="translate(290.50,236.25) scale(1,1.1)" font-size="7.2" text-anchor="start" font-weight="normal" font-style="normal" fill="#2a2a2a" >WT</text>
<text transform="translate(290.50,246.25) scale(1,1.1)" font-size="7.2" text-anchor="start" font-weight="normal" font-style="normal" fill="#2a2a2a" >KO</text>
<text transform="translate(278.80,266.10) scale(1,1.1)" font-size="7.2" fill="#2a2a2a"><tspan font-style="italic">P</tspan><tspan font-size="5.3" dy="2.6">genotype</tspan><tspan dy="-2.6"> &lt; 0.0001</tspan></text>
<text transform="translate(278.80,274.60) scale(1,1.1)" font-size="7.2" fill="#2a2a2a"><tspan font-style="italic">P</tspan><tspan font-size="5.3" dy="2.6">time</tspan><tspan dy="-2.6"> &lt; 0.0001</tspan></text>
<text transform="translate(278.80,283.60) scale(1,1.1)" font-size="7.2" fill="#2a2a2a"><tspan font-style="italic">P</tspan><tspan font-size="5.3" dy="2.6">genotype × time</tspan><tspan dy="-2.6"> = 0.001</tspan></text>
<text transform="translate(490.50,69.50) scale(1,1.1)" font-size="11.5" text-anchor="start" font-weight="bold" font-style="normal" fill="#111" stroke="#111" stroke-width="0.35">f</text>
<line x1="516.50" y1="71.50" x2="516.50" y2="160.00" stroke="#3d3d3d" stroke-width="1.1" />
<line x1="514.90" y1="159.50" x2="516.50" y2="159.50" stroke="#3d3d3d" stroke-width="0.9" />
<text transform="translate(512.70,161.40) scale(1,1.1)" font-size="7.2" text-anchor="end" font-weight="normal" font-style="normal" fill="#2a2a2a" >0</text>
<line x1="514.90" y1="144.92" x2="516.50" y2="144.92" stroke="#3d3d3d" stroke-width="0.9" />
<text transform="translate(512.70,146.82) scale(1,1.1)" font-size="7.2" text-anchor="end" font-weight="normal" font-style="normal" fill="#2a2a2a" >100</text>
<line x1="514.90" y1="130.33" x2="516.50" y2="130.33" stroke="#3d3d3d" stroke-width="0.9" />
<text transform="translate(512.70,132.23) scale(1,1.1)" font-size="7.2" text-anchor="end" font-weight="normal" font-style="normal" fill="#2a2a2a" >200</text>
<line x1="514.90" y1="115.75" x2="516.50" y2="115.75" stroke="#3d3d3d" stroke-width="0.9" />
<text transform="translate(512.70,117.65) scale(1,1.1)" font-size="7.2" text-anchor="end" font-weight="normal" font-style="normal" fill="#2a2a2a" >300</text>
<line x1="514.90" y1="101.17" x2="516.50" y2="101.17" stroke="#3d3d3d" stroke-width="0.9" />
<text transform="translate(512.70,103.07) scale(1,1.1)" font-size="7.2" text-anchor="end" font-weight="normal" font-style="normal" fill="#2a2a2a" >400</text>
<line x1="514.90" y1="86.58" x2="516.50" y2="86.58" stroke="#3d3d3d" stroke-width="0.9" />
<text transform="translate(512.70,88.48) scale(1,1.1)" font-size="7.2" text-anchor="end" font-weight="normal" font-style="normal" fill="#2a2a2a" >500</text>
<line x1="514.90" y1="72.00" x2="516.50" y2="72.00" stroke="#3d3d3d" stroke-width="0.9" />
<text transform="translate(512.70,73.90) scale(1,1.1)" font-size="7.2" text-anchor="end" font-weight="normal" font-style="normal" fill="#2a2a2a" >600</text>
<line x1="516.00" y1="159.50" x2="685.00" y2="159.50" stroke="#3d3d3d" stroke-width="1.1" />
<text transform="translate(534.30,167.80) scale(1,1.1)" font-size="7.2" text-anchor="middle" font-weight="normal" font-style="normal" fill="#2a2a2a" >0</text>
<text transform="translate(568.60,167.80) scale(1,1.1)" font-size="7.2" text-anchor="middle" font-weight="normal" font-style="normal" fill="#2a2a2a" >30</text>
<text transform="translate(602.50,167.80) scale(1,1.1)" font-size="7.2" text-anchor="middle" font-weight="normal" font-style="normal" fill="#2a2a2a" >60</text>
<text transform="translate(636.50,167.80) scale(1,1.1)" font-size="7.2" text-anchor="middle" font-weight="normal" font-style="normal" fill="#2a2a2a" >90</text>
<text transform="translate(670.70,167.80) scale(1,1.1)" font-size="7.2" text-anchor="middle" font-weight="normal" font-style="normal" fill="#2a2a2a" >120</text>
<text transform="translate(601.40,177.50) scale(1,1.1)" font-size="7.2" text-anchor="middle" font-weight="normal" font-style="normal" fill="#2a2a2a" >Time (min)</text>
<text transform="translate(495.70,113.50) rotate(-90)" x="0" y="0" font-size="7.2" text-anchor="middle" fill="#2a2a2a">Glucose (mg dl<tspan font-size='5' dy='-2.6'>−1</tspan><tspan dy='2.6'>)</tspan></text>
<polyline points="533.75,144.50 567.35,110.50 600.95,108.50 634.55,114.60 668.15,121.60" fill="none" stroke="#2f78c6" stroke-width="1.25" stroke-linejoin="round" stroke-linecap="butt"/>
<polyline points="533.75,128.75 567.35,86.25 600.95,85.50 634.55,88.75 668.15,97.50" fill="none" stroke="#ef7d32" stroke-width="1.25" stroke-linejoin="round" stroke-linecap="butt"/>
<line x1="533.75" y1="142.50" x2="533.75" y2="147.00" stroke="#111" stroke-width="0.9" />
<line x1="532.55" y1="142.50" x2="534.95" y2="142.50" stroke="#111" stroke-width="0.9" />
<line x1="532.55" y1="147.00" x2="534.95" y2="147.00" stroke="#111" stroke-width="0.9" />
<line x1="567.35" y1="107.00" x2="567.35" y2="112.50" stroke="#111" stroke-width="0.9" />
<line x1="566.15" y1="107.00" x2="568.55" y2="107.00" stroke="#111" stroke-width="0.9" />
<line x1="566.15" y1="112.50" x2="568.55" y2="112.50" stroke="#111" stroke-width="0.9" />
<line x1="600.95" y1="105.80" x2="600.95" y2="111.70" stroke="#111" stroke-width="0.9" />
<line x1="599.75" y1="105.80" x2="602.15" y2="105.80" stroke="#111" stroke-width="0.9" />
<line x1="599.75" y1="111.70" x2="602.15" y2="111.70" stroke="#111" stroke-width="0.9" />
<line x1="634.55" y1="109.50" x2="634.55" y2="119.70" stroke="#111" stroke-width="0.9" />
<line x1="633.35" y1="109.50" x2="635.75" y2="109.50" stroke="#111" stroke-width="0.9" />
<line x1="633.35" y1="119.70" x2="635.75" y2="119.70" stroke="#111" stroke-width="0.9" />
<line x1="668.15" y1="117.20" x2="668.15" y2="126.00" stroke="#111" stroke-width="0.9" />
<line x1="666.95" y1="117.20" x2="669.35" y2="117.20" stroke="#111" stroke-width="0.9" />
<line x1="666.95" y1="126.00" x2="669.35" y2="126.00" stroke="#111" stroke-width="0.9" />
<line x1="533.75" y1="124.25" x2="533.75" y2="132.50" stroke="#111" stroke-width="0.9" />
<line x1="532.55" y1="124.25" x2="534.95" y2="124.25" stroke="#111" stroke-width="0.9" />
<line x1="532.55" y1="132.50" x2="534.95" y2="132.50" stroke="#111" stroke-width="0.9" />
<line x1="567.35" y1="82.50" x2="567.35" y2="91.25" stroke="#111" stroke-width="0.9" />
<line x1="566.15" y1="82.50" x2="568.55" y2="82.50" stroke="#111" stroke-width="0.9" />
<line x1="566.15" y1="91.25" x2="568.55" y2="91.25" stroke="#111" stroke-width="0.9" />
<line x1="600.95" y1="77.50" x2="600.95" y2="93.25" stroke="#111" stroke-width="0.9" />
<line x1="599.75" y1="77.50" x2="602.15" y2="77.50" stroke="#111" stroke-width="0.9" />
<line x1="599.75" y1="93.25" x2="602.15" y2="93.25" stroke="#111" stroke-width="0.9" />
<line x1="634.55" y1="80.00" x2="634.55" y2="97.50" stroke="#111" stroke-width="0.9" />
<line x1="633.35" y1="80.00" x2="635.75" y2="80.00" stroke="#111" stroke-width="0.9" />
<line x1="633.35" y1="97.50" x2="635.75" y2="97.50" stroke="#111" stroke-width="0.9" />
<line x1="668.15" y1="88.00" x2="668.15" y2="107.00" stroke="#111" stroke-width="0.9" />
<line x1="666.95" y1="88.00" x2="669.35" y2="88.00" stroke="#111" stroke-width="0.9" />
<line x1="666.95" y1="107.00" x2="669.35" y2="107.00" stroke="#111" stroke-width="0.9" />
<line x1="638.75" y1="138.25" x2="646.25" y2="138.25" stroke="#2f78c6" stroke-width="1.3" />
<line x1="638.75" y1="148.25" x2="646.25" y2="148.25" stroke="#ef7d32" stroke-width="1.3" />
<text transform="translate(648.25,140.75) scale(1,1.1)" font-size="7.2" text-anchor="start" font-weight="normal" font-style="normal" fill="#2a2a2a" >WT</text>
<text transform="translate(648.25,150.75) scale(1,1.1)" font-size="7.2" text-anchor="start" font-weight="normal" font-style="normal" fill="#2a2a2a" >KO</text>
<text transform="translate(521.25,115.75) scale(1,1.1)" font-size="7.2" fill="#2a2a2a"><tspan font-style="italic">P</tspan> = 0.0015</text>
<text transform="translate(545.75,79.25) scale(1,1.1)" font-size="7.2" fill="#2a2a2a"><tspan font-style="italic">P</tspan> = 0.0006</text>
<text transform="translate(584.50,72.50) scale(1,1.1)" font-size="7.2" fill="#2a2a2a"><tspan font-style="italic">P</tspan> = 0.009</text>
<text transform="translate(618.25,78.75) scale(1,1.1)" font-size="7.2" fill="#2a2a2a"><tspan font-style="italic">P</tspan> = 0.014</text>
<text transform="translate(652.50,85.75) scale(1,1.1)" font-size="7.2" fill="#2a2a2a"><tspan font-style="italic">P</tspan> = 0.026</text>
<text transform="translate(488.50,249.25) scale(1,1.1)" font-size="11.5" text-anchor="start" font-weight="bold" font-style="normal" fill="#111" stroke="#111" stroke-width="0.35">f</text>
<line x1="514.50" y1="250.25" x2="514.50" y2="338.90" stroke="#3d3d3d" stroke-width="1.1" />
<line x1="512.90" y1="338.40" x2="514.50" y2="338.40" stroke="#3d3d3d" stroke-width="0.9" />
<text transform="translate(510.70,340.70) scale(1,1.1)" font-size="7.2" text-anchor="end" font-weight="normal" font-style="normal" fill="#2a2a2a" >0</text>
<line x1="512.90" y1="323.79" x2="514.50" y2="323.79" stroke="#3d3d3d" stroke-width="0.9" />
<text transform="translate(510.70,326.09) scale(1,1.1)" font-size="7.2" text-anchor="end" font-weight="normal" font-style="normal" fill="#2a2a2a" >100</text>
<line x1="512.90" y1="309.18" x2="514.50" y2="309.18" stroke="#3d3d3d" stroke-width="0.9" />
<text transform="translate(510.70,311.48) scale(1,1.1)" font-size="7.2" text-anchor="end" font-weight="normal" font-style="normal" fill="#2a2a2a" >200</text>
<line x1="512.90" y1="294.57" x2="514.50" y2="294.57" stroke="#3d3d3d" stroke-width="0.9" />
<text transform="translate(510.70,296.88) scale(1,1.1)" font-size="7.2" text-anchor="end" font-weight="normal" font-style="normal" fill="#2a2a2a" >300</text>
<line x1="512.90" y1="279.97" x2="514.50" y2="279.97" stroke="#3d3d3d" stroke-width="0.9" />
<text transform="translate(510.70,282.27) scale(1,1.1)" font-size="7.2" text-anchor="end" font-weight="normal" font-style="normal" fill="#2a2a2a" >400</text>
<line x1="512.90" y1="265.36" x2="514.50" y2="265.36" stroke="#3d3d3d" stroke-width="0.9" />
<text transform="translate(510.70,267.66) scale(1,1.1)" font-size="7.2" text-anchor="end" font-weight="normal" font-style="normal" fill="#2a2a2a" >500</text>
<line x1="512.90" y1="250.75" x2="514.50" y2="250.75" stroke="#3d3d3d" stroke-width="0.9" />
<text transform="translate(510.70,253.05) scale(1,1.1)" font-size="7.2" text-anchor="end" font-weight="normal" font-style="normal" fill="#2a2a2a" >600</text>
<line x1="514.00" y1="338.40" x2="682.80" y2="338.40" stroke="#3d3d3d" stroke-width="1.1" />
<text transform="translate(532.00,346.70) scale(1,1.1)" font-size="7.2" text-anchor="middle" font-weight="normal" font-style="normal" fill="#2a2a2a" >0</text>
<text transform="translate(566.80,346.70) scale(1,1.1)" font-size="7.2" text-anchor="middle" font-weight="normal" font-style="normal" fill="#2a2a2a" >30</text>
<text transform="translate(600.60,346.70) scale(1,1.1)" font-size="7.2" text-anchor="middle" font-weight="normal" font-style="normal" fill="#2a2a2a" >60</text>
<text transform="translate(634.20,346.70) scale(1,1.1)" font-size="7.2" text-anchor="middle" font-weight="normal" font-style="normal" fill="#2a2a2a" >90</text>
<text transform="translate(667.60,346.70) scale(1,1.1)" font-size="7.2" text-anchor="middle" font-weight="normal" font-style="normal" fill="#2a2a2a" >120</text>
<text transform="translate(493.10,292.50) rotate(-90)" x="0" y="0" font-size="7.2" text-anchor="middle" fill="#2a2a2a">Glucose (mg dl<tspan font-size='5' dy='-2.6'>−1</tspan><tspan dy='2.6'>)</tspan></text>
<polyline points="531.60,323.60 565.20,289.10 598.80,287.30 632.40,293.30 666.00,300.80" fill="none" stroke="#3f6fc9" stroke-width="1.25" stroke-linejoin="round" stroke-linecap="butt"/>
<polyline points="531.60,307.10 565.20,264.90 598.80,264.00 632.40,267.50 666.00,276.30" fill="none" stroke="#ef7d32" stroke-width="1.25" stroke-linejoin="round" stroke-linecap="butt"/>
<line x1="531.60" y1="321.80" x2="531.60" y2="325.20" stroke="#828282" stroke-width="0.9" />
<line x1="530.40" y1="321.80" x2="532.80" y2="321.80" stroke="#828282" stroke-width="0.9" />
<line x1="530.40" y1="325.20" x2="532.80" y2="325.20" stroke="#828282" stroke-width="0.9" />
<line x1="565.20" y1="287.10" x2="565.20" y2="291.50" stroke="#828282" stroke-width="0.9" />
<line x1="564.00" y1="287.10" x2="566.40" y2="287.10" stroke="#828282" stroke-width="0.9" />
<line x1="564.00" y1="291.50" x2="566.40" y2="291.50" stroke="#828282" stroke-width="0.9" />
<line x1="598.80" y1="285.60" x2="598.80" y2="290.00" stroke="#828282" stroke-width="0.9" />
<line x1="597.60" y1="285.60" x2="600.00" y2="285.60" stroke="#828282" stroke-width="0.9" />
<line x1="597.60" y1="290.00" x2="600.00" y2="290.00" stroke="#828282" stroke-width="0.9" />
<line x1="632.40" y1="289.00" x2="632.40" y2="297.70" stroke="#828282" stroke-width="0.9" />
<line x1="631.20" y1="289.00" x2="633.60" y2="289.00" stroke="#828282" stroke-width="0.9" />
<line x1="631.20" y1="297.70" x2="633.60" y2="297.70" stroke="#828282" stroke-width="0.9" />
<line x1="666.00" y1="297.00" x2="666.00" y2="305.20" stroke="#828282" stroke-width="0.9" />
<line x1="664.80" y1="297.00" x2="667.20" y2="297.00" stroke="#828282" stroke-width="0.9" />
<line x1="664.80" y1="305.20" x2="667.20" y2="305.20" stroke="#828282" stroke-width="0.9" />
<line x1="531.60" y1="304.00" x2="531.60" y2="310.70" stroke="#828282" stroke-width="0.9" />
<line x1="530.40" y1="304.00" x2="532.80" y2="304.00" stroke="#828282" stroke-width="0.9" />
<line x1="530.40" y1="310.70" x2="532.80" y2="310.70" stroke="#828282" stroke-width="0.9" />
<line x1="565.20" y1="260.20" x2="565.20" y2="269.80" stroke="#828282" stroke-width="0.9" />
<line x1="564.00" y1="260.20" x2="566.40" y2="260.20" stroke="#828282" stroke-width="0.9" />
<line x1="564.00" y1="269.80" x2="566.40" y2="269.80" stroke="#828282" stroke-width="0.9" />
<line x1="598.80" y1="257.40" x2="598.80" y2="271.50" stroke="#828282" stroke-width="0.9" />
<line x1="597.60" y1="257.40" x2="600.00" y2="257.40" stroke="#828282" stroke-width="0.9" />
<line x1="597.60" y1="271.50" x2="600.00" y2="271.50" stroke="#828282" stroke-width="0.9" />
<line x1="632.40" y1="260.00" x2="632.40" y2="275.40" stroke="#828282" stroke-width="0.9" />
<line x1="631.20" y1="260.00" x2="633.60" y2="260.00" stroke="#828282" stroke-width="0.9" />
<line x1="631.20" y1="275.40" x2="633.60" y2="275.40" stroke="#828282" stroke-width="0.9" />
<line x1="666.00" y1="267.50" x2="666.00" y2="285.40" stroke="#828282" stroke-width="0.9" />
<line x1="664.80" y1="267.50" x2="667.20" y2="267.50" stroke="#828282" stroke-width="0.9" />
<line x1="664.80" y1="285.40" x2="667.20" y2="285.40" stroke="#828282" stroke-width="0.9" />
<line x1="637.00" y1="317.20" x2="644.70" y2="317.20" stroke="#3f6fc9" stroke-width="1.3" />
<line x1="637.00" y1="327.30" x2="644.70" y2="327.30" stroke="#ef7d32" stroke-width="1.3" />
<text transform="translate(646.70,319.70) scale(1,1.1)" font-size="7.2" text-anchor="start" font-weight="normal" font-style="normal" fill="#2a2a2a" >WT</text>
<text transform="translate(646.70,329.80) scale(1,1.1)" font-size="7.2" text-anchor="start" font-weight="normal" font-style="normal" fill="#2a2a2a" >KO</text>
<text transform="translate(551.80,312.60) scale(1,1.1)" font-size="7.2" fill="#2a2a2a"><tspan font-style="italic">P</tspan><tspan font-size="5.3" dy="2.6">genotype</tspan><tspan dy="-2.6"> = 0.0042</tspan></text>
<text transform="translate(551.80,321.60) scale(1,1.1)" font-size="7.2" fill="#2a2a2a"><tspan font-style="italic">P</tspan><tspan font-size="5.3" dy="2.6">time</tspan><tspan dy="-2.6"> &lt; 0.0001</tspan></text>
<text transform="translate(551.80,330.60) scale(1,1.1)" font-size="7.2" fill="#2a2a2a"><tspan font-style="italic">P</tspan><tspan font-size="5.3" dy="2.6">genotype × time</tspan><tspan dy="-2.6"> = 0.4912</tspan></text>
</svg>
</body></html>
